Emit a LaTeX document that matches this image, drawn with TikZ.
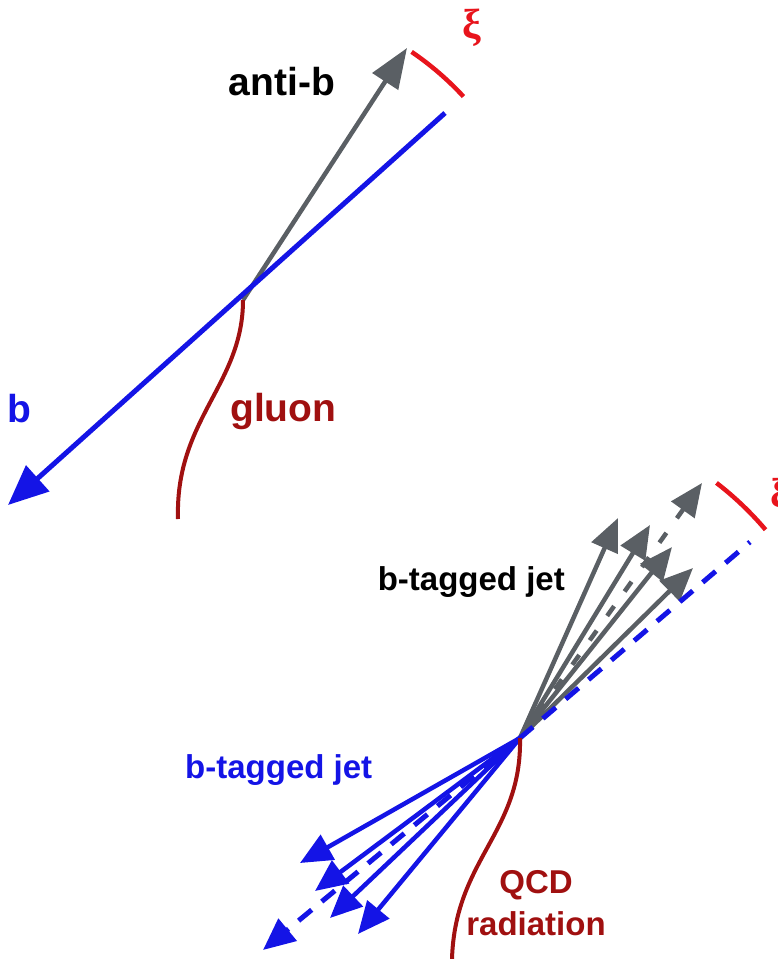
\documentclass[tikz,border=0pt]{standalone}
\usepackage{fontspec}
\setmainfont{Liberation Sans}
\newfontfamily\greekfont{Liberation Serif}
\usetikzlibrary{arrows.meta}
\definecolor{qblue}{HTML}{1414E6}
\definecolor{qgray}{HTML}{5A5F64}
\definecolor{qdred}{HTML}{A01010}
\definecolor{qred}{HTML}{E8141C}
\begin{document}
\begin{tikzpicture}[x=1pt,y=-1pt,
  bigtxt/.style={font=\fontsize{39}{44}\selectfont\bfseries, inner sep=0pt},
  smalltxt/.style={font=\fontsize{33}{38}\selectfont\bfseries, inner sep=0pt},
  xilabel/.style={font=\greekfont\bfseries\fontsize{42}{46}\selectfont, text=qred, inner sep=0pt},
  bigblue/.style={draw=qblue, line width=5pt, -{Triangle[length=40pt,width=34pt]}},
  biggray/.style={draw=qgray, line width=4.5pt, -{Triangle[length=40pt,width=30pt]}},
  jetgray/.style={draw=qgray, line width=4.5pt, -{Triangle[length=33pt,width=28pt]}},
  jetgraydash/.style={jetgray, dash pattern=on 12pt off 18pt},
  jetblue/.style={draw=qblue, line width=4.5pt, -{Triangle[length=32pt,width=28pt]}},
  bluedash/.style={draw=qblue, line width=5pt, dash pattern=on 17pt off 13pt},
  gluonline/.style={draw=qdred, line width=4pt},
  xiarc/.style={draw=qred, line width=4.5pt}
]
\useasboundingbox (0,0) rectangle (777,959);
% ---------- top diagram ----------
\coordinate (v1) at (243,300);
\coordinate (abtip) at (407,48);
\coordinate (bend) at (445,113);
\coordinate (btip) at (8,505);
\coordinate (gend) at (178,519);
\draw[biggray] (v1) -- (abtip);
\draw[bigblue] (bend) -- (btip);
\draw[gluonline] (v1) .. controls +(0,85) and +(-3,-100) .. (gend);
\draw[xiarc] (v1) ++(-55.8:300) arc[start angle=-55.8, end angle=-42.7, radius=300];
\node[xilabel] (xi1) at (472,28) {ξ};
\node[bigtxt, anchor=base] (antib) at (282,95) {anti-b};
\node[bigtxt, anchor=base west, text=qblue] (blab) at (7,422) {b};
\node[bigtxt, anchor=base west, text=qdred] (gluon) at (230,421) {gluon};
% ---------- bottom diagram ----------
\coordinate (v2) at (520,738);
\coordinate (g1) at (618,518);
\coordinate (g2) at (650,525);
\coordinate (g3) at (672,547);
\coordinate (g4) at (693,568);
\coordinate (gd) at (702,483);
\coordinate (bd1) at (750,542);
\coordinate (bd2) at (263,950);
\coordinate (b1) at (300,863);
\coordinate (b2) at (315,891);
\coordinate (b3) at (330,918);
\coordinate (b4) at (358,934);
\coordinate (qend) at (452,959);
\draw[jetgray] (v2) -- (g1);
\draw[jetgray] (v2) -- (g2);
\draw[jetgraydash] (v2) -- (gd);
\draw[jetgray] (v2) -- (g3);
\draw[jetgray] (v2) -- (g4);
\draw[bluedash] (v2) -- (bd1);
\draw[bluedash, -{Triangle[length=32pt,width=28pt]}] (v2) -- (bd2);
\draw[jetblue] (v2) -- (b1);
\draw[jetblue] (v2) -- (b2);
\draw[jetblue] (v2) -- (b3);
\draw[jetblue] (v2) -- (b4);
\draw[gluonline] (v2) .. controls +(2,95) and +(3,-100) .. (qend);
\draw[xiarc] (v2) ++(-52.4:322) arc[start angle=-52.4, end angle=-40.3, radius=322];
\node[xilabel] (xi2) at (780,497) {ξ};
\node[smalltxt, anchor=base east] (jet1) at (565,590) {b-tagged jet};
\node[smalltxt, anchor=base west, text=qblue] (jet2) at (185,778) {b-tagged jet};
\node[smalltxt, anchor=base, text=qdred] (qcd) at (536,893) {QCD};
\node[smalltxt, anchor=base, text=qdred] (rad) at (536,935) {radiation};
\end{tikzpicture}
\end{document}
